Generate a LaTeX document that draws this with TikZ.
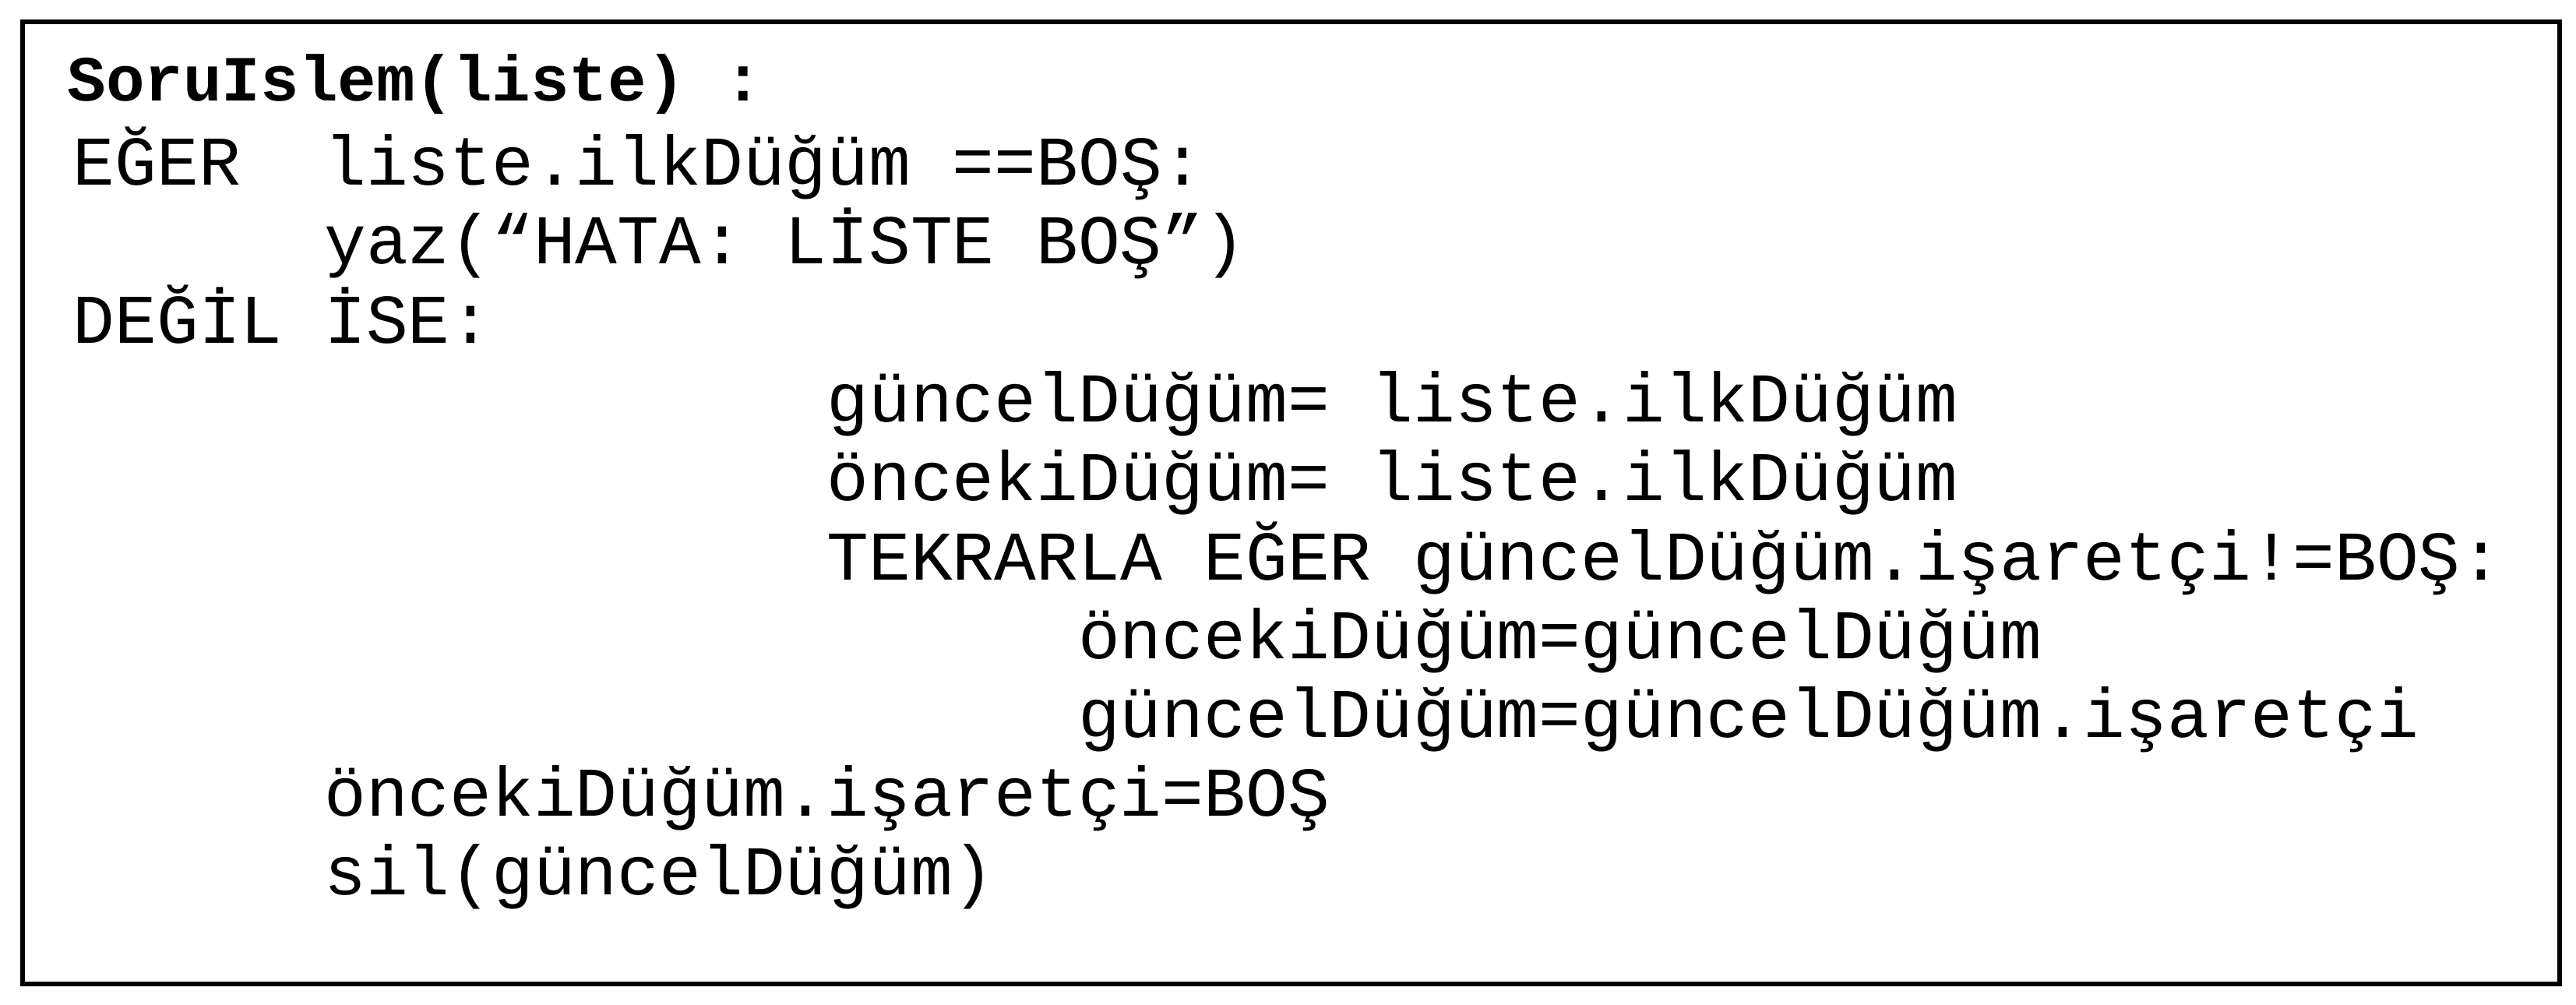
\documentclass[tikz,border=0pt]{standalone}
\usepackage{fontspec}
\newfontfamily\kodfont{Liberation Mono}
\tikzset{
  satir/.style={anchor=base west, inner sep=0pt,
    font=\kodfont\fontsize{25.5}{30}\selectfont},
  baslik/.style={anchor=base west, inner sep=0pt,
    font=\kodfont\bfseries\fontsize{23.5}{28}\selectfont}
}
\begin{document}
\begin{tikzpicture}
  \useasboundingbox (0,0) rectangle (33.07,12.90);
  \draw[line width=1.6pt] (0.29,0.27) rectangle (32.86,12.62);
  % kod satirlari
  \node[baslik] (basla)  at (0.86,11.60)  {SoruIslem(liste) :};
  \node[satir]  (eger)   at (0.93,10.52)  {EĞER\ \ liste.ilkDüğüm ==BOŞ:};
  \node[satir]  (yaz)    at (4.156,9.51)  {yaz(“HATA: LİSTE BOŞ”)};
  \node[satir]  (degil)  at (0.93,8.495)  {DEĞİL İSE:};
  \node[satir]  (guncel) at (10.609,7.483) {güncelDüğüm= liste.ilkDüğüm};
  \node[satir]  (onceki) at (10.609,6.471) {öncekiDüğüm= liste.ilkDüğüm};
  \node[satir]  (tekrar) at (10.609,5.459) {TEKRARLA EĞER güncelDüğüm.işaretçi!=BOŞ:};
  \node[satir]  (ata1)   at (13.835,4.447) {öncekiDüğüm=güncelDüğüm};
  \node[satir]  (ata2)   at (13.835,3.435) {güncelDüğüm=güncelDüğüm.işaretçi};
  \node[satir]  (isaret) at (4.156,2.422)  {öncekiDüğüm.işaretçi=BOŞ};
  \node[satir]  (sil)    at (4.156,1.41)   {sil(güncelDüğüm)};
\end{tikzpicture}
\end{document}
